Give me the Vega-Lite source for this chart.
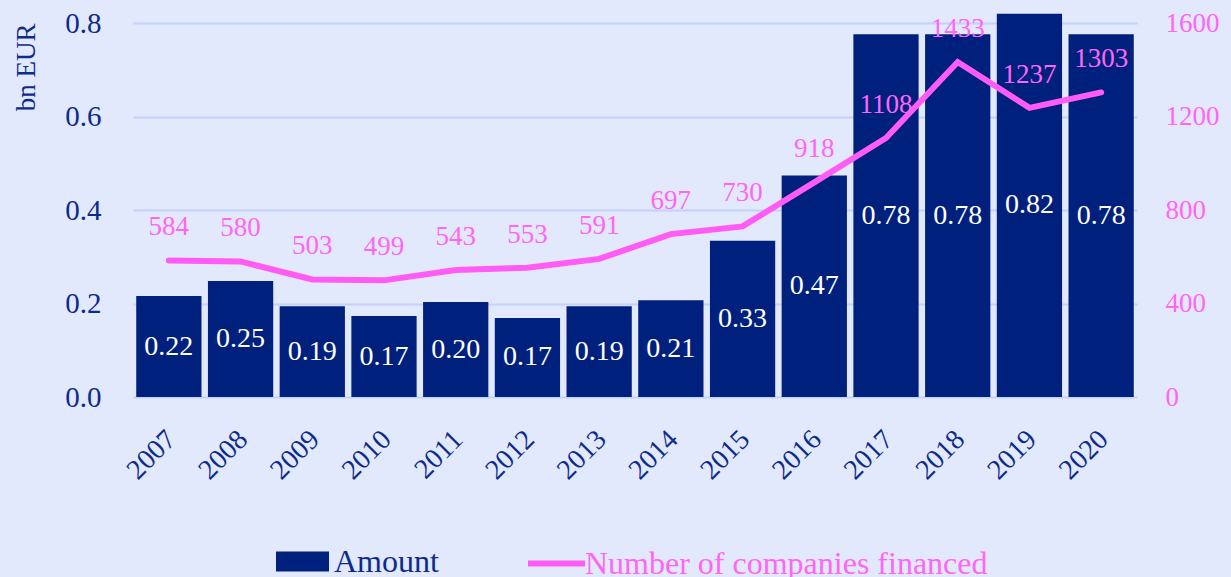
{
  "$schema": "https://vega.github.io/schema/vega-lite/v6.json",
  "width": 1004,
  "height": 374,
  "autosize": "none",
  "padding": {"left": 133, "top": 23, "right": 94, "bottom": 180},
  "background": "#e2e9fc",
  "config": {
    "view": {"stroke": null},
    "font": "Liberation Serif",
    "axis": {"labelFont": "Liberation Serif", "titleFont": "Liberation Serif"},
    "legend": {"labelFont": "Liberation Serif"}
  },
  "data": {
    "values": [
      {"year": "2007", "amount": 0.216, "count": 584},
      {"year": "2008", "amount": 0.248, "count": 580},
      {"year": "2009", "amount": 0.194, "count": 503},
      {"year": "2010", "amount": 0.173, "count": 499},
      {"year": "2011", "amount": 0.203, "count": 543},
      {"year": "2012", "amount": 0.169, "count": 553},
      {"year": "2013", "amount": 0.194, "count": 591},
      {"year": "2014", "amount": 0.207, "count": 697},
      {"year": "2015", "amount": 0.334, "count": 730},
      {"year": "2016", "amount": 0.474, "count": 918},
      {"year": "2017", "amount": 0.776, "count": 1108},
      {"year": "2018", "amount": 0.776, "count": 1433},
      {"year": "2019", "amount": 0.82, "count": 1237},
      {"year": "2020", "amount": 0.776, "count": 1303}
    ]
  },
  "encoding": {
    "x": {
      "field": "year",
      "type": "ordinal",
      "scale": {"paddingInner": 0.09, "paddingOuter": 0.045},
      "axis": {
        "title": null,
        "labelAngle": -45,
        "labelFontSize": 28,
        "labelColor": "#0d2b8c",
        "ticks": false,
        "domain": false,
        "labelPadding": 28,
        "labelOffset": -7,
        "grid": false
      }
    }
  },
  "layer": [
    {
      "mark": {"type": "bar"},
      "encoding": {
        "y": {
          "field": "amount",
          "type": "quantitative",
          "scale": {"domain": [0, 0.8], "nice": false},
          "axis": {
            "title": "bn EUR",
            "titleAnchor": "end",
            "titleFontSize": 27,
            "titleFontWeight": "normal",
            "titleColor": "#0d2b8c",
            "titlePadding": 24,
            "values": [0, 0.2, 0.4, 0.6, 0.8],
            "format": ".1f",
            "labelFontSize": 29,
            "labelColor": "#0d2b8c",
            "labelPadding": 32,
            "ticks": false,
            "domain": false,
            "grid": true,
            "gridColor": "#c3d2f9",
            "gridWidth": 2
          }
        },
        "fill": {
          "datum": "Amount",
          "scale": {"range": ["#00207e"]},
          "legend": {
            "title": null,
            "orient": "none",
            "legendX": 143,
            "legendY": 512,
            "padding": 0,
            "symbolType": "M-1,-0.38H1V0.38H-1Z",
            "symbolSize": 2809,
            "symbolStrokeWidth": 0,
            "symbolOpacity": 1,
            "labelFontSize": 32,
            "labelColor": "#0d2b8c",
            "labelOffset": 5,
            "labelLimit": 800
          }
        }
      }
    },
    {
      "mark": {"type": "text", "color": "#ffffff", "fontSize": 28, "baseline": "middle"},
      "encoding": {
        "y": {"field": "amount", "type": "quantitative", "scale": {"domain": [0, 1.6], "nice": false}, "axis": null},
        "text": {"field": "amount", "type": "quantitative", "format": ".2f"}
      }
    },
    {
      "mark": {"type": "line", "strokeWidth": 6, "strokeCap": "round", "strokeJoin": "miter"},
      "encoding": {
        "y": {
          "field": "count",
          "type": "quantitative",
          "scale": {"domain": [0, 1600], "nice": false},
          "axis": {
            "orient": "right",
            "title": null,
            "values": [0, 400, 800, 1200, 1600],
            "format": "d",
            "labelFontSize": 27,
            "labelColor": "#ff66f5",
            "labelPadding": 28,
            "ticks": false,
            "domain": false,
            "grid": false
          }
        },
        "stroke": {
          "datum": "Number of companies financed",
          "scale": {"range": ["#ff5cf5"]},
          "legend": {
            "title": null,
            "orient": "none",
            "legendX": 392,
            "legendY": 509,
            "padding": 0,
            "symbolType": "stroke",
            "symbolSize": 3249,
            "symbolStrokeWidth": 6,
            "labelFontSize": 32,
            "labelColor": "#ff66f5",
            "labelOffset": -3,
            "labelLimit": 800
          }
        }
      }
    },
    {
      "mark": {"type": "text", "color": "#ff66f5", "fontSize": 27, "baseline": "middle", "dy": -33},
      "encoding": {
        "y": {"field": "count", "type": "quantitative", "scale": {"domain": [0, 1600], "nice": false}, "axis": null},
        "text": {"field": "count", "type": "quantitative"}
      }
    }
  ],
  "resolve": {"scale": {"y": "independent"}}
}
